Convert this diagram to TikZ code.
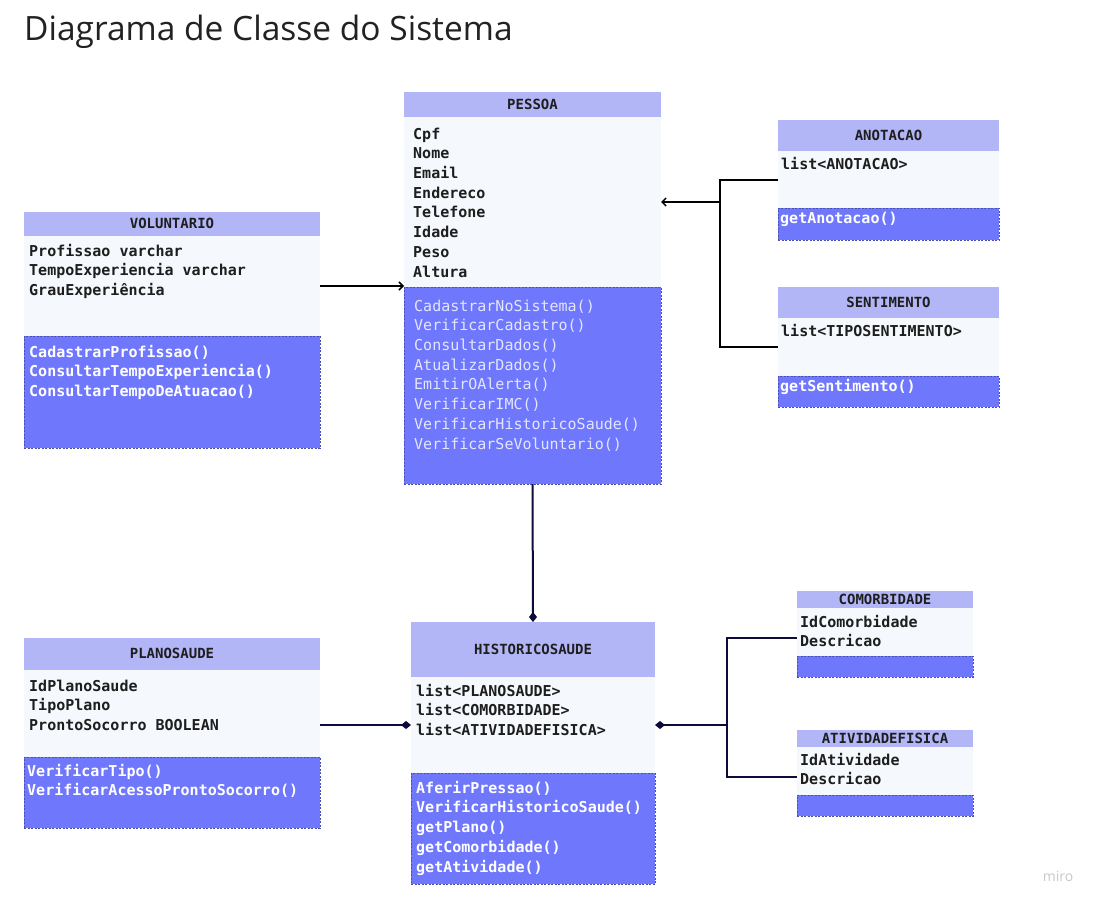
\documentclass[tikz,border=0pt]{standalone}
\usepackage{fontspec}
\setmainfont{Open Sans}
\newfontfamily\monof{DejaVu Sans Mono}
\usetikzlibrary{arrows.meta,calc}
\definecolor{hdr}{HTML}{B3B6F6}
\definecolor{attrbg}{HTML}{F5F8FC}
\definecolor{methbg}{HTML}{6F77FD}
\definecolor{methbd}{HTML}{4A4FB0}
\definecolor{navy}{HTML}{0C0C3C}
\definecolor{txt}{HTML}{1E1E1E}
\definecolor{lav}{HTML}{E4E6FF}
\definecolor{ttl}{HTML}{222222}
\definecolor{logo}{HTML}{C8C8CE}
\tikzset{
  sec/.style={rectangle, anchor=north west, inner sep=0pt, outer sep=0pt},
  hd/.style={sec, fill=hdr},
  atsec/.style={sec, fill=attrbg},
  mesec/.style={sec, fill=methbg, draw=methbd, line width=0.6pt, dash pattern=on 2pt off 1.5pt},
  attxt/.style={anchor=mid west, inner sep=0pt, font=\monof\bfseries\fontsize{15}{17}\selectfont, text=txt},
  methtxt/.style={attxt, text=white},
  pmethtxt/.style={anchor=mid west, inner sep=0pt, font=\monof\fontsize{15}{17}\selectfont, text=lav},
  hdtxt/.style={anchor=mid, inner sep=0pt, font=\monof\bfseries\fontsize{14}{16}\selectfont, text=txt},
  conn/.style={line width=2pt, black},
  nconn/.style={line width=2pt, navy},
  arr/.style={-{Straight Barb[length=4pt,width=8pt,line width=1.5pt]}},
  dia/.style={-{Diamond[length=10pt,width=8pt]}},
  diastart/.style={{Diamond[length=10pt,width=8pt]}-},
}
% #1 name, #2 x, #3 y, #4 width, #5 header h, #6 attr h, #7 meth h, #8 title
\newcommand{\umlbox}[8]{%
  \node[hd, minimum width=#4pt, minimum height=#5pt] (#1h) at (#2,#3) {};
  \node[atsec, minimum width=#4pt, minimum height=#6pt] (#1a) at (#1h.south west) {};
  \node[mesec, minimum width=#4pt, minimum height=#7pt] (#1m) at (#1a.south west) {};
  \node[hdtxt] (#1t) at ($(#1h.center)+(0,2)$) {#8};
}
% #1 style, #2 name prefix, #3 x, #4 first y, #5 step, #6 list
\newcommand{\txtlines}[6]{%
  \foreach \t [count=\i] in {#6} {\node[#1, name=#2\i] at (#3, {#4+2.5+#5*(\i-1)}) {\t};}
}
\begin{document}
\begin{tikzpicture}[x=1pt,y=-1pt]
\useasboundingbox (0,0) rectangle (1102,907);
\fill[white] (0,0) rectangle (1102,907);

\node[anchor=west, inner sep=0pt, font=\fontsize{33.5}{38}\selectfont, text=ttl] (title) at (24,32) {Diagrama de Classe do Sistema};
\node[inner sep=0pt, font=\fontsize{14}{16}\selectfont, text=logo] (miro) at (1058,876) {miro};

% PESSOA
\umlbox{pes}{404}{92}{257}{25}{170}{197}{PESSOA}
\txtlines{attxt}{pa}{413}{134}{19.7}{Cpf,Nome,Email,Endereco,Telefone,Idade,Peso,Altura}
\txtlines{pmethtxt}{pm}{414}{306}{19.7}{CadastrarNoSistema(),VerificarCadastro(),ConsultarDados(),AtualizarDados(),EmitirOAlerta(),VerificarIMC(),VerificarHistoricoSaude(),VerificarSeVoluntario()}

% ANOTACAO
\umlbox{ano}{778}{120}{221}{31}{57}{32}{ANOTACAO}
\txtlines{attxt}{aa}{781}{164}{19.7}{list<ANOTACAO>}
\txtlines{methtxt}{am}{780}{218}{19.7}{getAnotacao()}

% SENTIMENTO
\umlbox{sen}{778}{287}{221}{31}{58}{31}{SENTIMENTO}
\txtlines{attxt}{sa}{781}{331}{19.7}{list<TIPOSENTIMENTO>}
\txtlines{methtxt}{sm}{780}{386}{19.7}{getSentimento()}

% VOLUNTARIO
\umlbox{vol}{24}{212}{296}{24}{100}{112}{VOLUNTARIO}
\txtlines{attxt}{va}{29}{251}{19.8}{Profissao varchar,TempoExperiencia varchar,GrauExperiência}
\txtlines{methtxt}{vm}{29}{352}{19.6}{CadastrarProfissao(),ConsultarTempoExperiencia(),ConsultarTempoDeAtuacao()}

% HISTORICOSAUDE
\umlbox{his}{411}{622}{244}{55}{96}{111}{HISTORICOSAUDE}
\txtlines{attxt}{ha}{416}{691}{19.8}{list<PLANOSAUDE>,list<COMORBIDADE>,list<ATIVIDADEFISICA>}
\txtlines{methtxt}{hm}{416}{788}{19.8}{AferirPressao(),VerificarHistoricoSaude(),getPlano(),getComorbidade(),getAtividade()}

% PLANOSAUDE
\umlbox{pla}{24}{638}{296}{32}{87}{71}{PLANOSAUDE}
\txtlines{attxt}{pa}{29}{686}{19.5}{IdPlanoSaude,TipoPlano,ProntoSocorro BOOLEAN}
\txtlines{methtxt}{plm}{27}{771}{19.8}{VerificarTipo(),VerificarAcessoProntoSocorro()}

% COMORBIDADE
\umlbox{com}{797}{591}{176}{17}{48}{21}{COMORBIDADE}
\txtlines{attxt}{ca}{800}{622}{19.8}{IdComorbidade,Descricao}

% ATIVIDADEFISICA
\umlbox{ati}{797}{730}{176}{17}{48}{21}{ATIVIDADEFISICA}
\txtlines{attxt}{ta}{800}{760}{19.8}{IdAtividade,Descricao}

% connectors
\draw[conn, arr] (vola.east) -- (vola.east -| pesa.west);
\coordinate (j1) at (720,202);
\draw[conn] (anoa.west) -| (j1) |- (sena.west);
\draw[conn, arr] (j1) -- (pesa.east);

\draw[nconn, dia] (pesm.south) -- (hish.north);
\draw[nconn, dia] (hisa.west -| plaa.east) -- (hisa.west);
\coordinate (j2) at (727,725);
\draw[nconn, diastart] (hisa.east) -- (j2);
\draw[nconn] ($(coma.west)+(0,6)$) -| (j2) |- ($(atia.west)+(0,6)$);
\end{tikzpicture}
\end{document}
